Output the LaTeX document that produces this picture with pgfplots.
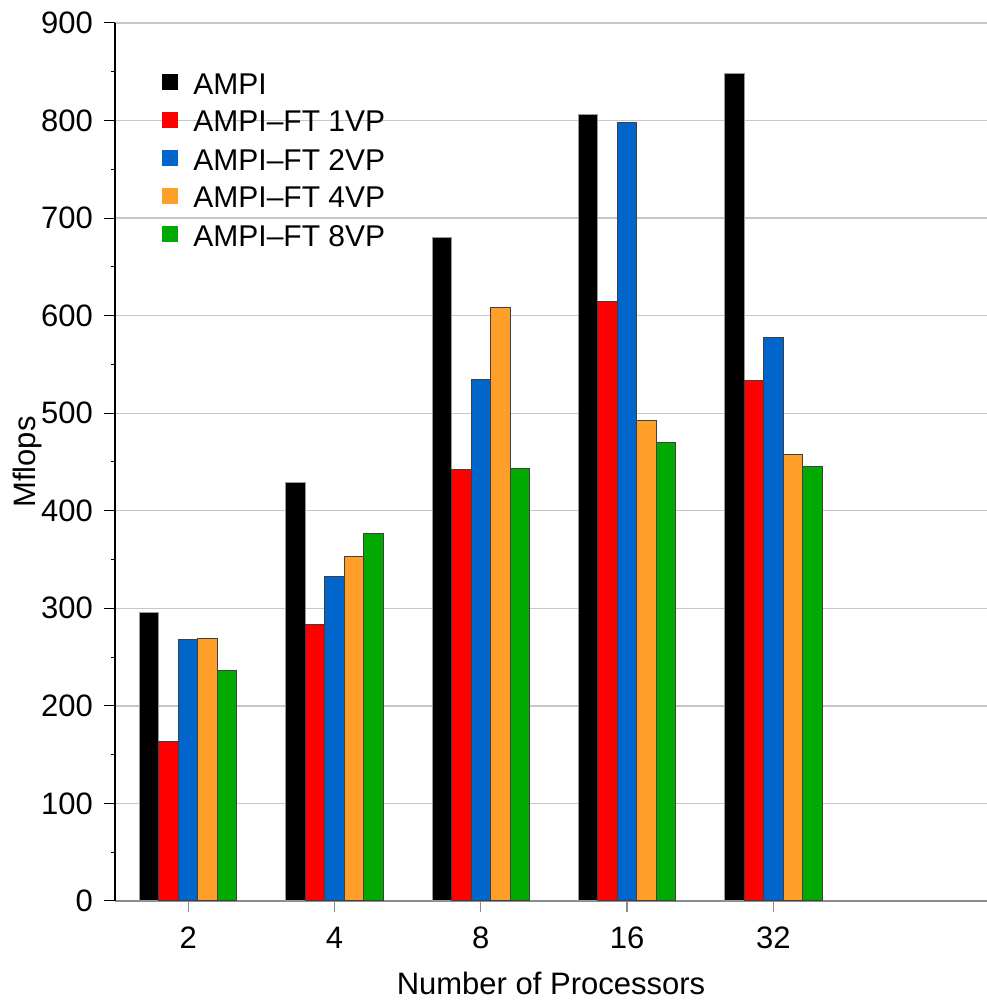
\documentclass[border=0pt]{standalone}
\usepackage{fontspec}
\setmainfont{Liberation Sans}
\usepackage{pgfplots}
\pgfplotsset{compat=1.18}
\usetikzlibrary{calc}

\definecolor{cblue}{RGB}{0,102,204}
\definecolor{corange}{RGB}{255,158,40}
\definecolor{cgreen}{RGB}{0,170,0}

\newcommand{\chartfont}{\fontsize{15.5pt}{18pt}\selectfont}
\newcommand{\legendfont}{\fontsize{15pt}{18pt}\selectfont}

\begin{document}
\begin{tikzpicture}
	\begin{axis}[
			name=ax,
			scale only axis,
			width=436pt,
			height=439pt,
			ybar=0pt,
			bar width=9.75pt,
			xmin=-0.5, xmax=5.46,
			ymin=0, ymax=900,
			xtick={0,1,2,3,4},
			xticklabels={2,4,8,16,32},
			ytick={0,100,...,900},
			minor y tick num=1,
			axis x line=bottom,
			axis y line=left,
			x axis line style={-, draw=black!45, line width=0.6pt},
			y axis line style={-, draw=black, line width=0.6pt},
			tick align=outside,
			major tick length=5.5pt,
			minor tick length=2pt,
			x tick style={draw=black!45, line width=0.6pt},
			y tick style={draw=black, line width=0.5pt},
			ymajorgrids,
			grid style={draw=black!22, line width=0.7pt},
			tick label style={font=\chartfont},
			label style={font=\chartfont},
			/pgf/number format/assume math mode=true,
			xticklabel style={yshift=-4pt},
			yticklabel style={xshift=-2pt},
			xlabel={Number of Processors},
			ylabel={Mflops},
			xlabel style={yshift=-4.8pt},
			ylabel shift=-7pt,
			legend cell align=left,
			legend image code/.code={\draw[#1, draw=none] (0pt,-2.5pt) rectangle (8pt,5.5pt);},
			legend style={
					at={(rel axis cs:0,1)}, anchor=north west,
					xshift=23.5pt, yshift=-24pt,
					draw=none, fill=none, inner sep=0pt,
					font=\legendfont, row sep=5.1pt, column sep=5.5pt,
					nodes={inner ysep=1pt}
				},
		]

		% AMPI
		\addplot[fill=black, draw=black!40, line width=0.5pt] coordinates {
				(0, 296) (1, 429) (2, 680) (3, 806) (4, 848)
			};
		% AMPI-FT 1VP
		\addplot[fill=red, draw=black!75, line width=0.5pt] coordinates {
				(0, 163) (1, 283) (2, 442) (3, 615) (4, 534)
			};
		% AMPI-FT 2VP
		\addplot[fill=cblue, draw=black!75, line width=0.5pt] coordinates {
				(0, 268) (1, 333) (2, 535) (3, 798) (4, 578)
			};
		% AMPI-FT 4VP
		\addplot[fill=corange, draw=black!75, line width=0.5pt] coordinates {
				(0, 269) (1, 353) (2, 608) (3, 493) (4, 458)
			};
		% AMPI-FT 8VP
		\addplot[fill=cgreen, draw=black!75, line width=0.5pt] coordinates {
				(0, 236) (1, 377) (2, 443) (3, 470) (4, 445)
			};

		\legend{AMPI, AMPI--FT 1VP, AMPI--FT 2VP, AMPI--FT 4VP, AMPI--FT 8VP}
	\end{axis}
	\pgfresetboundingbox
	\useasboundingbox ($(ax.south west)+(-57.5pt,-49.5pt)$) rectangle ($(ax.north east)+(0,11.5pt)$);
\end{tikzpicture}
\end{document}
